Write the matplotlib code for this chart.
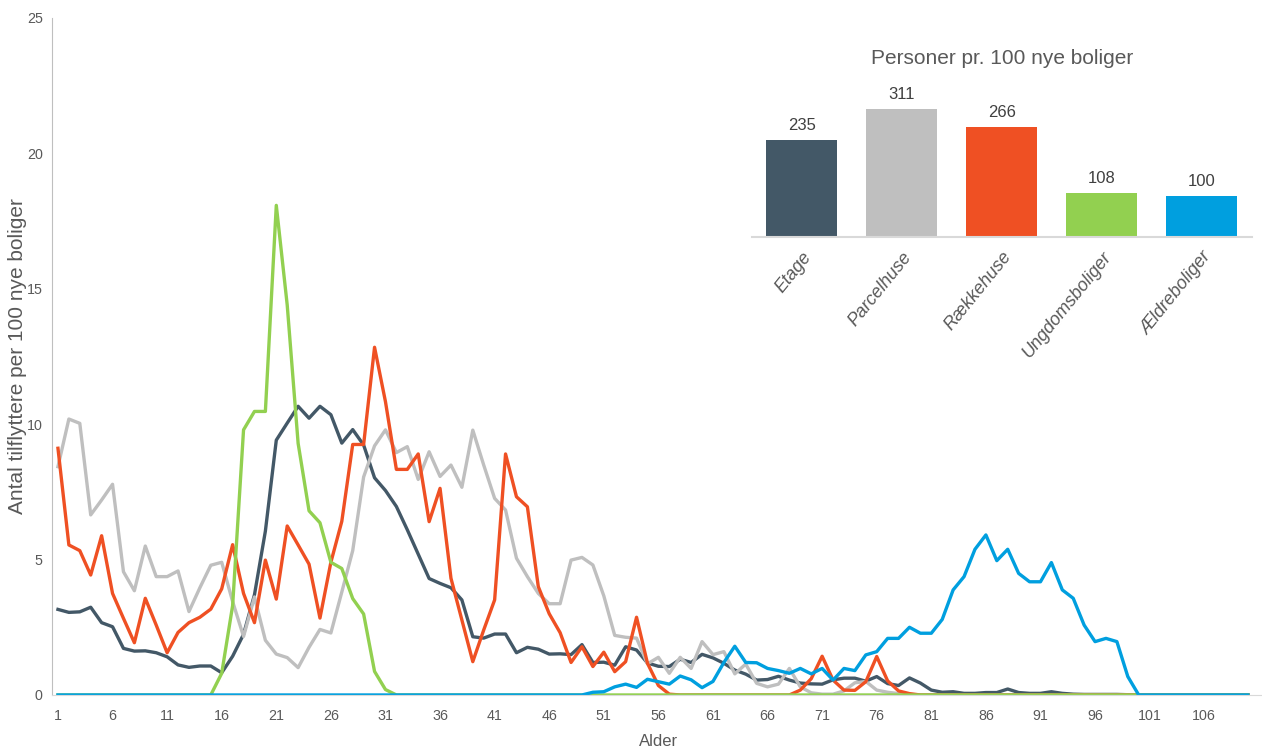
import numpy as np
import matplotlib
matplotlib.use("Agg")
import matplotlib.pyplot as plt

# alder 1..110
ages = np.arange(1, 111)

etage = [3.16, 3.05, 3.07, 3.24, 2.67, 2.52, 1.72, 1.62, 1.63, 1.56,
         1.41, 1.11, 1.02, 1.07, 1.07, 0.82, 1.43, 2.24, 3.70, 6.05,
         9.41, 10.04, 10.66, 10.22, 10.66, 10.35, 9.30, 9.80, 9.23, 8.02,
         7.55, 6.96, 6.10, 5.20, 4.30, 4.12, 3.96, 3.51, 2.15, 2.10,
         2.25, 2.25, 1.56, 1.76, 1.69, 1.51, 1.52, 1.49, 1.86, 1.20,
         1.21, 1.10, 1.78, 1.66, 1.18, 1.06, 1.05, 1.32, 1.20, 1.50,
         1.37, 1.17, 0.92, 0.77, 0.55, 0.57, 0.69, 0.55, 0.44, 0.41,
         0.40, 0.56, 0.62, 0.62, 0.51, 0.68, 0.42, 0.35, 0.63, 0.44,
         0.18, 0.10, 0.12, 0.06, 0.06, 0.09, 0.09, 0.22, 0.09, 0.06,
         0.06, 0.12, 0.06, 0.03, 0.02, 0.02, 0.02, 0.02, 0.01, 0.00,
         0, 0, 0, 0, 0, 0, 0, 0, 0, 0]

parcelhuse = [8.43, 10.19, 10.03, 6.65, 7.20, 7.78, 4.55, 3.85, 5.50, 4.37,
              4.37, 4.58, 3.08, 3.96, 4.79, 4.90, 3.45, 2.16, 3.62, 2.02,
              1.51, 1.38, 1.01, 1.76, 2.42, 2.29, 3.80, 5.33, 8.05, 9.20,
              9.79, 8.95, 9.17, 7.96, 8.98, 8.07, 8.49, 7.67, 9.78, 8.49,
              7.26, 6.83, 5.05, 4.37, 3.75, 3.37, 3.37, 4.98, 5.08, 4.80,
              3.66, 2.20, 2.13, 2.10, 1.15, 1.39, 0.80, 1.39, 0.98, 1.97,
              1.49, 1.60, 0.78, 1.14, 0.43, 0.30, 0.40, 0.98, 0.30, 0.08,
              0.03, 0.03, 0.15, 0.45, 0.50, 0.18, 0.10, 0.05, 0.02, 0,
              0, 0, 0, 0, 0, 0, 0, 0, 0, 0,
              0, 0, 0, 0, 0, 0, 0, 0, 0, 0,
              0, 0, 0, 0, 0, 0, 0, 0, 0, 0]

raekkehuse = [9.11, 5.54, 5.33, 4.43, 5.88, 3.75, 2.83, 1.93, 3.57, 2.58,
              1.56, 2.31, 2.67, 2.87, 3.17, 3.92, 5.55, 3.75, 2.67, 4.98,
              3.54, 6.24, 5.54, 4.83, 2.84, 4.90, 6.41, 9.25, 9.25, 12.84,
              10.83, 8.33, 8.33, 8.90, 6.40, 7.63, 4.31, 2.77, 1.23, 2.40,
              3.51, 8.90, 7.32, 6.95, 4.00, 3.00, 2.30, 1.20, 1.78, 1.05,
              1.58, 0.86, 1.23, 2.87, 1.17, 0.35, 0.03, 0, 0, 0,
              0, 0, 0, 0, 0, 0, 0, 0, 0.18, 0.60,
              1.43, 0.55, 0.18, 0.17, 0.49, 1.42, 0.52, 0.15, 0.05, 0,
              0, 0, 0, 0, 0, 0, 0, 0, 0, 0,
              0, 0, 0, 0, 0, 0, 0, 0, 0, 0,
              0, 0, 0, 0, 0, 0, 0, 0, 0, 0]

ungdomsboliger = [0, 0, 0, 0, 0, 0, 0, 0, 0, 0,
                  0, 0, 0, 0, 0, 0.80, 3.30, 9.79, 10.47, 10.47,
                  18.08, 14.40, 9.29, 6.80, 6.36, 4.90, 4.67, 3.56, 2.99, 0.87,
                  0.20, 0, 0, 0, 0, 0, 0, 0, 0, 0,
                  0, 0, 0, 0, 0, 0, 0, 0, 0, 0,
                  0, 0, 0, 0, 0, 0, 0, 0, 0, 0,
                  0, 0, 0, 0, 0, 0, 0, 0, 0, 0,
                  0, 0, 0, 0, 0, 0, 0, 0, 0, 0,
                  0, 0, 0, 0, 0, 0, 0, 0, 0, 0,
                  0, 0, 0, 0, 0, 0, 0, 0, 0, 0,
                  0, 0, 0, 0, 0, 0, 0, 0, 0, 0]

aeldreboliger = [0, 0, 0, 0, 0, 0, 0, 0, 0, 0,
                 0, 0, 0, 0, 0, 0, 0, 0, 0, 0,
                 0, 0, 0, 0, 0, 0, 0, 0, 0, 0,
                 0, 0, 0, 0, 0, 0, 0, 0, 0, 0,
                 0, 0, 0, 0, 0, 0, 0, 0, 0, 0.10,
                 0.12, 0.30, 0.40, 0.28, 0.58, 0.49, 0.40, 0.70, 0.56, 0.27,
                 0.50, 1.20, 1.80, 1.20, 1.19, 0.98, 0.90, 0.80, 0.98, 0.78,
                 0.98, 0.55, 0.98, 0.90, 1.48, 1.60, 2.09, 2.09, 2.50, 2.28,
                 2.28, 2.79, 3.88, 4.37, 5.38, 5.91, 4.96, 5.38, 4.49, 4.18,
                 4.18, 4.89, 3.88, 3.57, 2.58, 1.97, 2.09, 1.97, 0.68, 0,
                 0, 0, 0, 0, 0, 0, 0, 0, 0, 0]

boligtyper = ["Etage", "Parcelhuse", "Rækkehuse", "Ungdomsboliger", "Ældreboliger"]
personer = [235, 311, 266, 108, 100]

colors = ["#435867", "#BFBFBF", "#EF5023", "#92D050", "#009FDF"]
FONT = ["Liberation Sans", "DejaVu Sans"]
txt = "#595959"

fig = plt.figure(figsize=(12.62, 7.51), dpi=100)

# hovedgraf
ax = fig.add_axes([0.0416, 0.0746, 0.9602, 0.9015])
for vals, c in zip([etage, parcelhuse, raekkehuse, ungdomsboliger, aeldreboliger], colors):
    ax.plot(ages, vals, color=c, lw=2.4)

ax.set_xlim(0.5, 111.5)
ax.set_ylim(0, 25)
ax.set_xticks(np.arange(1, 111, 5))
ax.set_yticks([0, 5, 10, 15, 20, 25])
for s in ["top", "right"]:
    ax.spines[s].set_visible(False)
ax.spines["left"].set_color("#BFBFBF")
ax.spines["bottom"].set_color("#D9D9D9")
ax.tick_params(axis="both", length=0, labelcolor=txt)
ax.tick_params(axis="x", pad=10)
ax.tick_params(axis="y", pad=7)
for lab in ax.get_xticklabels() + ax.get_yticklabels():
    lab.set_fontfamily(FONT)
    lab.set_fontsize(10.3)

ax.set_xlabel("Alder", family=FONT, fontsize=12, color=txt, va="center")
ax.xaxis.set_label_coords(0.5, -0.069)
ax.set_ylabel("Antal tilflyttere per 100 nye boliger", family=FONT,
              fontsize=15, color=txt, va="center")
ax.yaxis.set_label_coords(-0.029, 0.5)

# indsat søjlediagram
ax2 = fig.add_axes([751.7 / 1262, (751 - 237.3) / 751, 500 / 1262, (237.3 - 80) / 751])
ax2.patch.set_visible(False)
bars = ax2.bar(range(5), personer, width=0.71, color=colors)
ax2.set_xlim(-0.5, 4.5)
ax2.set_ylim(0, 157.3 / 0.413)
for s in ["top", "right", "left"]:
    ax2.spines[s].set_visible(False)
ax2.spines["bottom"].set_color("#D9D9D9")
ax2.spines["bottom"].set_linewidth(1.5)
ax2.set_yticks([])
ax2.set_xticks(range(5), boligtyper, rotation=51, ha="right", rotation_mode="anchor",
               fontstyle="italic", family=FONT, fontsize=13, color=txt)
ax2.tick_params(axis="x", length=0, pad=8)
ax2.bar_label(bars, padding=5, fontsize=12, color="#404040", family=FONT)

fig.text(1001.7 / 1262, 1 - 59 / 751, "Personer pr. 100 nye boliger", ha="center",
         va="center", fontsize=15, family=FONT, color=txt)

fig.savefig("out.png", dpi=100)
